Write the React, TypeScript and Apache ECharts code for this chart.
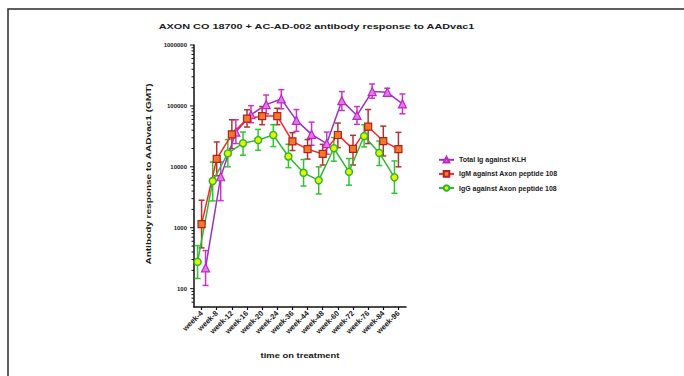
import React, { useEffect, useRef } from 'react';
import * as echarts from 'echarts';

const categories = ['week-4', 'week-8', 'week-12', 'week-16', 'week-20', 'week-24', 'week-36', 'week-44', 'week-48', 'week-60', 'week-72', 'week-76', 'week-84', 'week-96'];

const klhMean = [220, 6870, 37200, 71600, 105000, 130000, 57800, 34100, 24100, 122000, 69700, 172000, 167000, 108000];
const klhLow = [113, 2790, 24100, 53000, 74300, 89700, 38200, 22600, 16100, 84100, 49800, 134000, 148000, 74300];
const klhHigh = [422, 12000, 59300, 101000, 151000, 185000, 87300, 54200, 37200, 172000, 97700, 229000, 195000, 157000];

const igmMean = [1150, 13500, 34100, 61700, 68000, 68000, 26200, 19500, 16300, 33300, 19700, 45600, 26500, 19500];
const igmLow = [467, 7130, 19900, 45000, 49200, 49200, 18500, 13400, 10700, 20700, 10700, 24100, 15100, 10000];
const igmHigh = [2830, 25600, 59300, 86400, 97700, 91600, 36400, 28000, 23400, 52300, 32900, 87300, 46600, 36800];

const iggMean = [275, 5850, 16600, 24400, 27500, 33300, 14800, 7980, 6000, 20200, 8280, 32000, 16900, 6720];
const iggLow = [147, 2760, 10000, 15500, 18700, 21500, 9700, 4840, 3590, 12400, 5000, 21200, 10500, 3680];
const iggHigh = [508, 12000, 28000, 37200, 41200, 49200, 23500, 13200, 10000, 30200, 13700, 49000, 26500, 12500];

const yMajorTicks = [100, 1000, 10000, 100000, 1000000];
const yMinorTicks = [
  60, 70, 80, 90,
  200, 300, 400, 500, 600, 700, 800, 900,
  2000, 3000, 4000, 5000, 6000, 7000, 8000, 9000,
  20000, 30000, 40000, 50000, 60000, 70000, 80000, 90000,
  200000, 300000, 400000, 500000, 600000, 700000, 800000, 900000,
];

const seriesNames = ['Total Ig against KLH', 'IgM against Axon peptide 108', 'IgG against Axon peptide 108'];
const titleText = 'AXON CO 18700 + AC-AD-002 antibody response to AADvac1';
const yName = 'Antibody response to AADvac1 (GMT)';
const xName = 'time on treatment';

const FONT = '"Liberation Sans", Arial, sans-serif';

function measure(text: string, size: number, weight: string) {
  const ctx = document.createElement('canvas').getContext('2d');
  if (!ctx) return text.length * size * 0.55;
  ctx.font = `${weight} ${size}px ${FONT}`;
  return ctx.measureText(text).width;
}

function stretchedText(text: string, x: number, y: number, target: number, rotation: number, size: number) {
  const w = measure(text, size, 'bold');
  return {
    type: 'text',
    x,
    y,
    rotation,
    scaleX: target / w,
    silent: true,
    style: {
      text,
      fontSize: size,
      fontWeight: 'bold',
      fontFamily: FONT,
      fill: '#1a1a1a',
      align: 'center',
      verticalAlign: 'middle',
      textAlign: 'center',
      textVerticalAlign: 'middle',
    },
  };
}

function errorSeries(low: number[], high: number[], color: string, axisIdx: number) {
  return {
    type: 'custom',
    xAxisIndex: axisIdx,
    yAxisIndex: axisIdx,
    silent: true,
    clip: false,
    z: 1,
    encode: { x: 0, y: [1, 2] },
    data: categories.map((_, i) => [i, low[i], high[i]]),
    renderItem: (params: any, api: any) => {
      const x = api.value(0);
      const lo = api.coord([x, api.value(1)]);
      const hi = api.coord([x, api.value(2)]);
      const w = 3;
      const style = { stroke: color, lineWidth: 1.5 };
      return {
        type: 'group',
        children: [
          { type: 'line', shape: { x1: lo[0], y1: lo[1], x2: hi[0], y2: hi[1] }, style },
          { type: 'line', shape: { x1: lo[0] - w, y1: lo[1], x2: lo[0] + w, y2: lo[1] }, style },
          { type: 'line', shape: { x1: hi[0] - w, y1: hi[1], x2: hi[0] + w, y2: hi[1] }, style },
        ],
      };
    },
  };
}

function tickSeries() {
  const data = [
    ...yMajorTicks.map((v) => [0, v, 1]),
    ...yMinorTicks.map((v) => [0, v, 0]),
  ];
  return {
    type: 'custom',
    xAxisIndex: 0,
    yAxisIndex: 0,
    silent: true,
    clip: false,
    z: 5,
    encode: { x: 0, y: 1 },
    data,
    renderItem: (params: any, api: any) => {
      const y = api.coord([0, api.value(1)])[1];
      const x0 = params.coordSys.x;
      const len = api.value(2) === 1 ? 4 : 2.5;
      return {
        type: 'line',
        shape: { x1: x0 - len, y1: y, x2: x0, y2: y },
        style: { stroke: '#111', lineWidth: 1 },
      };
    },
  };
}

export default function App() {
  const ref = useRef<HTMLDivElement>(null);

  useEffect(() => {
    if (!ref.current) return;
    const chart = echarts.init(ref.current, undefined, { renderer: 'svg' });

    const gridBase = { top: 45, bottom: 69 };
    const hiddenX = (gi: number) => ({ type: 'category', gridIndex: gi, data: categories, show: false, boundaryGap: true });
    const hiddenY = (gi: number) => ({ type: 'log', logBase: 10, gridIndex: gi, min: 50, max: 1000000, show: false });

    const option: any = {
      animation: false,
      backgroundColor: '#ffffff',
      grid: [
        { ...gridBase, left: 194, right: 278 },
        { ...gridBase, left: 190, right: 282 },
        { ...gridBase, left: 198, right: 274 },
      ],
      xAxis: [
        {
          type: 'category',
          gridIndex: 0,
          data: categories,
          boundaryGap: true,
          axisLine: { show: true, lineStyle: { color: '#111', width: 1.5 } },
          axisTick: { show: true, alignWithLabel: true, length: 3, lineStyle: { color: '#111', width: 1.2 } },
          axisLabel: { rotate: 45, fontSize: 7.5, margin: 5, color: '#1a1a1a', fontFamily: FONT, fontWeight: 'bold', interval: 0 },
          splitLine: { show: false },
        },
        hiddenX(1),
        hiddenX(2),
      ],
      yAxis: [
        {
          type: 'log',
          logBase: 10,
          gridIndex: 0,
          min: 50,
          max: 1000000,
          axisLine: { show: true, lineStyle: { color: '#111', width: 1.5 } },
          axisTick: { show: false },
          minorTick: { show: false },
          splitLine: { show: false },
          axisLabel: {
            fontSize: 6,
            margin: 7,
            color: '#1a1a1a',
            fontFamily: FONT,
            fontWeight: 'bold',
            formatter: (v: number) => {
              const l = Math.log10(v);
              return Math.abs(l - Math.round(l)) < 1e-6 ? String(Math.round(v)) : '';
            },
          },
        },
        hiddenY(1),
        hiddenY(2),
      ],
      legend: {
        orient: 'vertical',
        left: 433,
        top: 151,
        itemWidth: 15,
        itemHeight: 7,
        itemGap: 6.5,
        selectedMode: false,
        data: seriesNames,
        textStyle: { fontSize: 7, color: '#1a1a1a', fontFamily: FONT, fontWeight: 'bold' },
      },
      graphic: [
        {
          type: 'polyline',
          silent: true,
          shape: { points: [[8, 376], [8, 9], [684, 9]] },
          style: { stroke: '#2a2a2a', lineWidth: 1.5, fill: 'none' },
        },
        stretchedText(titleText, 316.5, 27, 317, 0, 7),
        stretchedText(yName, 149, 174, 182, Math.PI / 2, 7),
        stretchedText(xName, 300, 355, 79, 0, 7),
      ],
      series: [
        errorSeries(klhLow, klhHigh, '#cc33cc', 2),
        errorSeries(igmLow, igmHigh, '#b03434', 0),
        errorSeries(iggLow, iggHigh, '#33c433', 1),
        {
          type: 'line',
          name: seriesNames[0],
          xAxisIndex: 2,
          yAxisIndex: 2,
          data: klhMean,
          symbol: 'triangle',
          symbolSize: 8,
          z: 3,
          lineStyle: { color: '#9a32c4', width: 1.5 },
          itemStyle: { color: '#e27ae8', borderColor: '#c224c8', borderWidth: 1.2 },
        },
        {
          type: 'line',
          name: seriesNames[1],
          xAxisIndex: 0,
          yAxisIndex: 0,
          data: igmMean,
          symbol: 'rect',
          symbolSize: 7,
          z: 3,
          lineStyle: { color: '#ff2424', width: 1.5 },
          itemStyle: { color: '#f27a26', borderColor: '#b02222', borderWidth: 1.2 },
        },
        {
          type: 'line',
          name: seriesNames[2],
          xAxisIndex: 1,
          yAxisIndex: 1,
          data: iggMean,
          symbol: 'circle',
          symbolSize: 7,
          z: 3,
          lineStyle: { color: '#33b833', width: 1.5 },
          itemStyle: { color: '#e6f200', borderColor: '#2fb82f', borderWidth: 1.5 },
        },
        tickSeries(),
      ],
    };

    chart.setOption(option);
    return () => chart.dispose();
  }, []);

  return <div ref={ref} style={{ position: 'fixed', left: 0, top: 0, width: 684, height: 376 }} />;
}
